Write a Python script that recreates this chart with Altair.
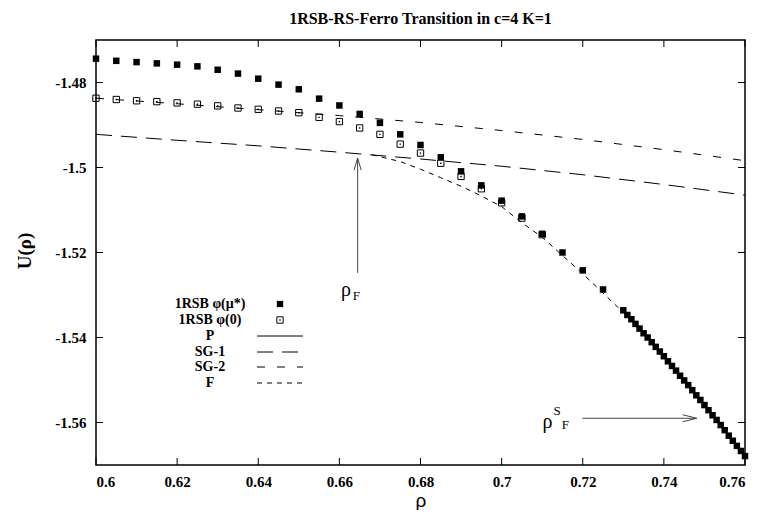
import altair as alt
import pandas as pd

W, H = 649, 425

# 1RSB phi(mu*) : filled squares
rho_mu = [0.600, 0.605, 0.610, 0.615, 0.620, 0.625, 0.630, 0.635, 0.640, 0.645,
          0.650, 0.655, 0.660, 0.665, 0.670, 0.675, 0.680, 0.685, 0.690, 0.695,
          0.700, 0.705, 0.710, 0.715, 0.720, 0.725,
          0.730, 0.731, 0.732, 0.733, 0.734, 0.735, 0.736, 0.737, 0.738, 0.739,
          0.740, 0.741, 0.742, 0.743, 0.744, 0.745, 0.746, 0.747, 0.748, 0.749,
          0.750, 0.751, 0.752, 0.753, 0.754, 0.755, 0.756, 0.757, 0.758, 0.759, 0.760]
u_mu = [-1.4744, -1.4749, -1.4752, -1.4755, -1.4758, -1.4762, -1.4770, -1.4779, -1.4791, -1.4805,
        -1.4816, -1.4838, -1.4854, -1.4874, -1.4895, -1.4922, -1.4947, -1.4976, -1.5009, -1.5042,
        -1.5078, -1.5115, -1.5156, -1.5200, -1.5242, -1.5287,
        -1.5336, -1.5347, -1.5357, -1.5368, -1.5379, -1.5390, -1.5400, -1.5411, -1.5422, -1.5433,
        -1.5444, -1.5456, -1.5467, -1.5478, -1.5490, -1.5501, -1.5512, -1.5524, -1.5536, -1.5547,
        -1.5559, -1.5571, -1.5583, -1.5594, -1.5606, -1.5618, -1.5631, -1.5643, -1.5655, -1.5667, -1.5679]

# 1RSB phi(0) : open squares
rho_0 = [0.600, 0.605, 0.610, 0.615, 0.620, 0.625, 0.630, 0.635, 0.640, 0.645,
         0.650, 0.655, 0.660, 0.665, 0.670, 0.675, 0.680, 0.685, 0.690, 0.695,
         0.700, 0.705, 0.710]
u_0 = [-1.4837, -1.4840, -1.4843, -1.4845, -1.4848, -1.4851, -1.4855, -1.4860, -1.4863, -1.4867,
       -1.4871, -1.4882, -1.4892, -1.4907, -1.4922, -1.4945, -1.4966, -1.4990, -1.5021, -1.5050,
       -1.5083, -1.5119, -1.5158]

# SG-1 (long dashes)
rho_sg1 = [0.60, 0.62, 0.64, 0.66, 0.68, 0.70, 0.72, 0.74, 0.76]
u_sg1 = [-1.4922, -1.4936, -1.4949, -1.4964, -1.4980, -1.4997, -1.5017, -1.5040, -1.5065]

# SG-2 (medium dashes)
rho_sg2 = [0.60, 0.62, 0.64, 0.66, 0.68, 0.70, 0.72, 0.74, 0.76]
u_sg2 = [-1.4837, -1.4850, -1.4864, -1.4878, -1.4894, -1.4913, -1.4934, -1.4958, -1.4984]

# F (short dashes)
rho_f = [0.668, 0.675, 0.680, 0.685, 0.690, 0.695, 0.700, 0.705, 0.710, 0.720, 0.730, 0.740, 0.750, 0.760]
u_f = [-1.4970, -1.4986, -1.5004, -1.5024, -1.5044, -1.5067, -1.5092, -1.5130, -1.5164, -1.5250,
       -1.5341, -1.5446, -1.5560, -1.5681]

x_ticks = [0.6, 0.62, 0.64, 0.66, 0.68, 0.7, 0.72, 0.74, 0.76]
y_ticks = [-1.56, -1.54, -1.52, -1.5, -1.48]

legend_labels = ["1RSB \u03c6(\u03bc*)", "1RSB \u03c6(0)", "P", "SG-1", "SG-2", "F"]

# annotations (data coordinates)
arrow_rhoF = {"x": [0.6645, 0.6645], "y": [-1.5248, -1.4978]}
arrow_rhoSF = {"x": [0.7199, 0.7481], "y": [-1.5590, -1.5590]}

SERIF = "Liberation Serif"

xs = alt.Scale(domain=[0.6, 0.76], nice=False, zero=False)
ys = alt.Scale(domain=[-1.57, -1.47], nice=False, zero=False)

xaxis = alt.Axis(values=x_ticks, ticks=False, domain=False, grid=False,
                 labelExpr="'' + datum.value", labelFont=SERIF, labelFontWeight="bold",
                 labelFontSize=15, labelColor="black", labelPadding=9,
                 title="\u03c1", titleFont="Liberation Sans", titleFontWeight="normal",
                 titleFontSize=19, titleColor="black", titleX=W / 2, titleY=35,
                 titleBaseline="middle")
yaxis = alt.Axis(values=y_ticks, ticks=False, domain=False, grid=False,
                 labelExpr="'' + datum.value", labelFont=SERIF, labelFontWeight="bold",
                 labelFontSize=15, labelColor="black", labelPadding=10,
                 title="U(\u03c1)", titleFont=SERIF, titleFontWeight="bold",
                 titleFontSize=19, titleColor="black", titleX=-72, titleY=H / 2 - 2,
                 titleAngle=-90, titleBaseline="middle", titleAlign="center")

df_mu = pd.DataFrame({"rho": rho_mu, "u": u_mu})
df_0 = pd.DataFrame({"rho": rho_0, "u": u_0})


def line(r, u, dash):
    d = pd.DataFrame({"rho": r, "u": u})
    kw = {"color": "black", "strokeWidth": 1}
    if dash:
        kw["strokeDash"] = dash
    return alt.Chart(d).mark_line(**kw).encode(
        x=alt.X("rho:Q", scale=xs), y=alt.Y("u:Q", scale=ys))


base_axes = alt.Chart(df_mu).mark_point(opacity=0).encode(
    x=alt.X("rho:Q", scale=xs, axis=xaxis),
    y=alt.Y("u:Q", scale=ys, axis=yaxis))

sg1 = line(rho_sg1, u_sg1, [16, 9])
sg2 = line(rho_sg2, u_sg2, [8, 12])
fl = line(rho_f, u_f, [5, 5])

open_sq = alt.Chart(df_0).mark_square(filled=False, size=40, stroke="black",
                                      strokeWidth=1, opacity=1).encode(
    x=alt.X("rho:Q", scale=xs), y=alt.Y("u:Q", scale=ys))
open_dot = alt.Chart(df_0).mark_square(filled=True, size=2, color="black", opacity=1).encode(
    x=alt.X("rho:Q", scale=xs), y=alt.Y("u:Q", scale=ys))
filled_sq = alt.Chart(df_mu).mark_square(filled=True, size=42, color="black", opacity=1).encode(
    x=alt.X("rho:Q", scale=xs), y=alt.Y("u:Q", scale=ys))

# inward ticks on all four sides
dxt = pd.DataFrame({"t": x_ticks})
dyt = pd.DataFrame({"t": y_ticks})
TL = 7
tick_b = alt.Chart(dxt).mark_rule(color="black", strokeWidth=1).encode(
    x=alt.X("t:Q", scale=xs), y=alt.value(H), y2=alt.value(H - TL))
tick_t = alt.Chart(dxt).mark_rule(color="black", strokeWidth=1).encode(
    x=alt.X("t:Q", scale=xs), y=alt.value(0), y2=alt.value(TL))
tick_l = alt.Chart(dyt).mark_rule(color="black", strokeWidth=1).encode(
    y=alt.Y("t:Q", scale=ys), x=alt.value(0), x2=alt.value(TL))
tick_r = alt.Chart(dyt).mark_rule(color="black", strokeWidth=1).encode(
    y=alt.Y("t:Q", scale=ys), x=alt.value(W), x2=alt.value(W - TL))

# arrows
ARC = "#444444"
a1 = pd.DataFrame(arrow_rhoF)
a2 = pd.DataFrame(arrow_rhoSF)
arrow1 = alt.Chart(a1).mark_line(color=ARC, strokeWidth=1).encode(
    x=alt.X("x:Q", scale=xs), y=alt.Y("y:Q", scale=ys))
arrow1_head = alt.Chart(a1.iloc[[1]]).mark_point(
    shape="M -0.3 1 L 0 0 L 0.3 1", filled=False, size=576, stroke=ARC, strokeWidth=1, opacity=1
).encode(x=alt.X("x:Q", scale=xs), y=alt.Y("y:Q", scale=ys))
arrow2 = alt.Chart(a2).mark_line(color=ARC, strokeWidth=1).encode(
    x=alt.X("x:Q", scale=xs), y=alt.Y("y:Q", scale=ys))
arrow2_head = alt.Chart(a2.iloc[[1]]).mark_point(
    shape="M -1 -0.25 L 0 0 L -1 0.25", filled=False, size=784, stroke=ARC, strokeWidth=1, opacity=1
).encode(x=alt.X("x:Q", scale=xs), y=alt.Y("y:Q", scale=ys))

ann = pd.DataFrame({
    "x": [0.6616, 0.7113],
    "y": [-1.5289, -1.5599],
    "t": ["\u03c1", "\u03c1"],
})
ann_sub = pd.DataFrame({
    "x": [0.6642, 0.7157, 0.7137],
    "y": [-1.5303, -1.5607, -1.5574],
    "t": ["F", "F", "S"],
})
ann_txt = alt.Chart(ann).mark_text(font=SERIF, fontSize=20, color="black").encode(
    x=alt.X("x:Q", scale=xs), y=alt.Y("y:Q", scale=ys), text="t:N")
ann_sub_txt = alt.Chart(ann_sub).mark_text(font=SERIF, fontSize=13, color="black").encode(
    x=alt.X("x:Q", scale=xs), y=alt.Y("y:Q", scale=ys), text="t:N")

# title
title = alt.Chart(pd.DataFrame({"t": ["1RSB-RS-Ferro Transition in c=4 K=1"]})).mark_text(
    font=SERIF, fontSize=16, fontWeight="bold", color="black", baseline="middle"
).encode(x=alt.value(W / 2), y=alt.value(-21), text="t:N")

# manual legend (pixel positions relative to plot area)
leg_y = [264, 280, 296, 312, 327, 343]
leg_df = pd.DataFrame({"label": legend_labels, "ly": leg_y})
leg_text = alt.Chart(leg_df).mark_text(font=SERIF, fontSize=14, fontWeight="bold",
                                       color="black", baseline="middle").encode(
    x=alt.value(114), y=alt.Y("ly:Q", scale=None), text="label:N")
LX0, LX1, LXC = 161, 207, 184
leg_f = alt.Chart(leg_df.iloc[[0]]).mark_square(filled=True, size=40, color="black", opacity=1).encode(
    x=alt.value(LXC), y=alt.Y("ly:Q", scale=None))
leg_o = alt.Chart(leg_df.iloc[[1]]).mark_square(filled=False, size=40, stroke="black",
                                                 strokeWidth=1, opacity=1).encode(
    x=alt.value(LXC), y=alt.Y("ly:Q", scale=None))
leg_od = alt.Chart(leg_df.iloc[[1]]).mark_square(filled=True, size=2, color="black", opacity=1).encode(
    x=alt.value(LXC), y=alt.Y("ly:Q", scale=None))


def leg_rule(i, dash):
    kw = {"color": "black", "strokeWidth": 1}
    if dash:
        kw["strokeDash"] = dash
    return alt.Chart(leg_df.iloc[[i]]).mark_rule(**kw).encode(
        x=alt.value(LX0), x2=alt.value(LX1), y=alt.Y("ly:Q", scale=None))


legend = alt.layer(leg_text, leg_f, leg_o, leg_od,
                   leg_rule(2, None), leg_rule(3, [16, 9]), leg_rule(4, [8, 12]), leg_rule(5, [5, 5]))

chart = alt.layer(
    base_axes, sg1, sg2, fl, open_sq, open_dot, filled_sq,
    tick_b, tick_t, tick_l, tick_r,
    arrow1, arrow1_head, arrow2, arrow2_head, ann_txt, ann_sub_txt,
    title, legend
).properties(
    width=W, height=H,
    autosize=alt.AutoSizeParams(type="none"),
    padding={"left": 88, "top": 32, "right": 8, "bottom": 45},
    background="white",
).configure_view(stroke="black", strokeWidth=1.5)

chart.save("out.html", embed_options={"renderer": "svg", "actions": False})
